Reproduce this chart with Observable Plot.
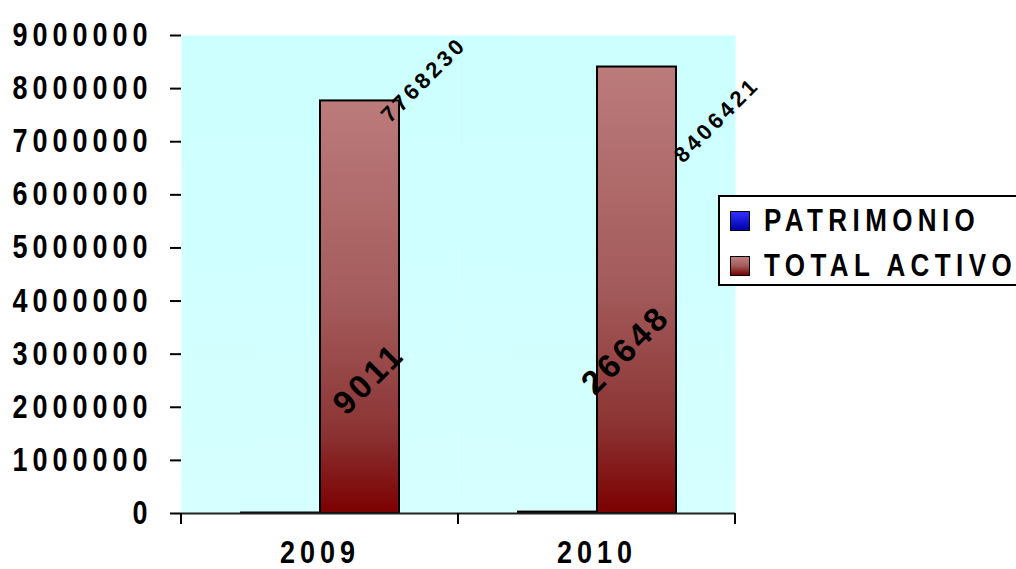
<!DOCTYPE html>
<html>
<head>
<meta charset="utf-8">
<script src="https://cdn.jsdelivr.net/npm/d3@7"></script>
<script src="https://cdn.jsdelivr.net/npm/@observablehq/plot@0.6"></script>
<style>
  html, body { margin: 0; padding: 0; background: white; overflow: hidden; }
  #wrap { position: relative; width: 1016px; height: 569px; overflow: hidden; font-family: "Liberation Sans", Arial, sans-serif; }
  #wrap svg { position: absolute; left: 0; top: 0; }
  .legend-box { position: absolute; left: 718px; top: 195px; width: 330px; height: 87px; border: 2px solid black; background: white; }
  .swatch { position: absolute; width: 18px; height: 18px; border: 1.5px solid black; }
  .legend-text { position: absolute; font-weight: bold; font-size: 26px; line-height: 26px; letter-spacing: 5.4px; white-space: nowrap; transform-origin: 0 12.7px; transform: scaleY(1.22); }
</style>
</head>
<body>
<div id="wrap"></div>
<script>
// Balance figures per year
const years = ["2009", "2010"];
const series = ["PATRIMONIO", "TOTAL ACTIVO"];
const patrimonio = [9011, 26648];
const totalActivo = [7768230, 8406421];
const yTicks = [0, 1000000, 2000000, 3000000, 4000000, 5000000, 6000000, 7000000, 8000000, 9000000];

const rows = years.flatMap((year, i) => [
  {year, series: series[0], value: patrimonio[i]},
  {year, series: series[1], value: totalActivo[i]}
]);

const font = "'Liberation Sans', Arial, sans-serif";
const pick = (year, s) => (d) => d.year === year && d.series === s;

// value labels, rotated like the original data labels
const label = (year, s, size, dx, dy) =>
  Plot.text(rows, {
    filter: pick(year, s), fx: "year", x: "series", y: "value",
    text: (d) => String(d.value), rotate: -45,
    fontSize: size, fontWeight: "bold", fontFamily: font, fill: "black", dx, dy
  });

const chart = Plot.plot({
  width: 1016,
  height: 569,
  marginLeft: 181,
  marginRight: 281,
  marginTop: 35,
  marginBottom: 56,
  style: `font-family: ${font}; letter-spacing: 5px; background: white; color: black; overflow: visible;`,
  fx: {domain: years, padding: 0, label: null},
  x: {domain: series, paddingInner: 0, paddingOuter: 0.742, align: 0.5, axis: null},
  y: {domain: [0, 9000000], label: null},
  marks: [
    Plot.frame({fill: "url(#bgGrad)", stroke: "none"}),
    Plot.barY(rows, {filter: (d) => d.series === series[0], fx: "year", x: "series", y: "value",
      fill: "url(#patGrad)", stroke: "black", strokeWidth: 2}),
    Plot.barY(rows, {filter: (d) => d.series === series[1], fx: "year", x: "series", y: "value",
      fill: "url(#actGrad)", stroke: "black", strokeWidth: 2}),
    Plot.ruleY([0], {stroke: "#222", strokeWidth: 2}),
    Plot.axisY({ticks: yTicks, tickFormat: d3.format("d"), tickSize: 11, tickPadding: 18,
      fontSize: 27, fontWeight: "bold", fontFamily: font, strokeWidth: 2, line: true, label: null}),
    Plot.axisFx({anchor: "bottom", tickSize: 0, tickPadding: 27, fontSize: 27,
      fontWeight: "bold", fontFamily: font, label: null}),
    label("2009", series[1], 22, 64, -21),
    label("2010", series[1], 22, 80, 53),
    label("2009", series[0], 33, 88, -134),
    label("2010", series[0], 33, 68, -162)
  ]
});

document.getElementById("wrap").appendChild(chart);

// gradients used by the frame and the bars
const svg = d3.select(chart);
const defs = svg.insert("defs", ":first-child");
function grad(id, stops) {
  const g = defs.append("linearGradient").attr("id", id)
    .attr("x1", 0).attr("y1", 0).attr("x2", 0).attr("y2", 1);
  stops.forEach(([o, c]) => g.append("stop").attr("offset", o).attr("stop-color", c));
}
grad("bgGrad", [[0, "#CCFFFF"], [1, "#D6FFFF"]]);
grad("actGrad", [[0, "#BC7B7B"], [0.5, "#A35A5A"], [0.8, "#8C3434"], [1, "#7C0000"]]);
grad("patGrad", [[0, "#3030FF"], [1, "#0000A8"]]);

// taller letterforms for the axis labels
svg.selectAll('g[aria-label="y-axis tick label"] text')
  .attr("transform", function () { return this.getAttribute("transform") + " scale(1,1.22)"; });
svg.selectAll('g[aria-label="fx-axis tick label"] text')
  .attr("transform", function () { return this.getAttribute("transform") + " scale(1,1.18)"; });

// tighter spacing on the smaller value labels
svg.selectAll('g[aria-label="text"]')
  .filter(function () { return +this.getAttribute("font-size") < 30; })
  .selectAll("text")
  .style("letter-spacing", "3.5px");

// tick marks on the boundaries between the year bands
const fx = chart.scale("fx");
const yr = chart.scale("y").range;
const step = (fx.range[1] - fx.range[0]) / fx.domain.length;
const base = Math.max(yr[0], yr[1]);
svg.append("g").selectAll("line")
  .data(d3.range(fx.domain.length + 1))
  .join("line")
  .attr("x1", (i) => fx.range[0] + i * step)
  .attr("x2", (i) => fx.range[0] + i * step)
  .attr("y1", base)
  .attr("y2", base + 11)
  .attr("stroke", "black")
  .attr("stroke-width", 2);

// legend
const wrap = d3.select("#wrap");
wrap.append("div").attr("class", "legend-box");
const swatchFills = ["linear-gradient(#3030FF, #0000A8)", "linear-gradient(#C08080, #A35A5A 50%, #7C0000)"];
series.forEach((s, i) => {
  wrap.append("div").attr("class", "swatch")
    .style("left", "730px").style("top", (211 + i * 45) + "px")
    .style("background", swatchFills[i]);
  wrap.append("div").attr("class", "legend-text")
    .style("left", "764px").style("top", (207 + i * 45) + "px")
    .text(s);
});
</script>
</body>
</html>
